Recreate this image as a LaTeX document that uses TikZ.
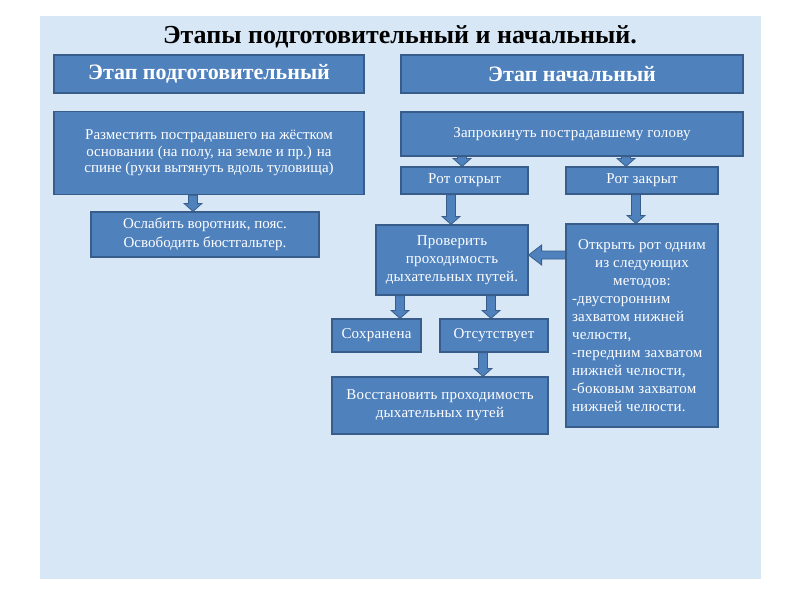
\documentclass[tikz,border=0pt]{standalone}
\usepackage{fontspec}
\setmainfont{Liberation Serif}
\usetikzlibrary{calc}
\definecolor{bgblue}{HTML}{D8E7F6}
\definecolor{boxfill}{HTML}{4F81BD}
\definecolor{boxline}{HTML}{385D8A}
\tikzset{
  box/.style={draw=boxline, fill=boxfill, line width=1.2pt, text=white, inner sep=2pt, align=center,
    font=\rmfamily\fontsize{15}{18}\selectfont\addfontfeatures{LetterSpace=1.5}},
  headbox/.style={box, font=\rmfamily\fontsize{22}{24}\selectfont\bfseries},
  blockarr/.style={draw=boxline, fill=boxfill, line width=0.8pt, line join=miter}
}
% vertical block arrow from node #1 (south) to node #2 (north) at x = #3 pt
\newcommand\varr[3]{%
  \path[blockarr] let \p1=(#1.south), \p2=(#2.north) in
    (#3pt-4.5pt,\y1) -- (#3pt-4.5pt,\y2+8pt) -- (#3pt-9pt,\y2+8pt) -- (#3pt,\y2)
    -- (#3pt+9pt,\y2+8pt) -- (#3pt+4.5pt,\y2+8pt) -- (#3pt+4.5pt,\y1) -- cycle;}
% horizontal block arrow from node #1 (west) to node #2 (east) at y = #3 (picture units)
\newcommand\harr[3]{%
  \path[blockarr] let \p1=(#1.west), \p2=(#2.east), \p3=(0,#3) in
    (\x1,\y3+4pt) -- (\x2+13pt,\y3+4pt) -- (\x2+13pt,\y3+10pt) -- (\x2,\y3)
    -- (\x2+13pt,\y3-10pt) -- (\x2+13pt,\y3-4pt) -- (\x1,\y3-4pt) -- cycle;}
\begin{document}
\begin{tikzpicture}[x=1pt,y=-1pt]
\useasboundingbox (0,0) rectangle (800,600);
\fill[white] (0,0) rectangle (800,600);
\fill[bgblue] (40,16) rectangle (761,579);

\node[font=\rmfamily\fontsize{26}{28}\selectfont\bfseries] (title) at (400,37) {Этапы подготовительный и начальный.};

\node[headbox, minimum width=310pt, minimum height=38pt] (hL) at (209,74) {Этап подготовительный};
\node[headbox, minimum width=342pt, minimum height=38pt] (hR) at (572,74) {Этап начальный};

\node[box, minimum width=310pt, minimum height=83pt, font=\fontsize{15}{16.5}\selectfont] (raz) at (209,153)
  {Разместить пострадавшего на жёстком\\основании (на полу, на земле и пр.) на\\спине (руки вытянуть вдоль туловища)};
\node[box, minimum width=228pt, minimum height=45pt, font=\fontsize{15}{19}\selectfont] (osl) at (205,234.5)
  {Ослабить воротник, пояс.\\Освободить бюстгальтер.};

\node[box, minimum width=342pt, minimum height=44pt] (zap) at (572,134) {Запрокинуть пострадавшему голову};
\node[box, minimum width=127pt, minimum height=27pt] (rotO) at (464.5,180.5) {Рот открыт};
\node[box, minimum width=152pt, minimum height=27pt] (rotZ) at (642,180.5) {Рот закрыт};

\node[box, minimum width=152pt, minimum height=70pt] (prov) at (452,260)
  {Проверить\\проходимость\\дыхательных путей.};
\node[box, minimum width=152pt, minimum height=203pt, text width=140pt, align=none] (otk) at (642,325.5)
  {\centering Открыть рот одним\\из следующих\\методов:\par
   \raggedright -двусторонним\\захватом нижней\\челюсти,\\-передним захватом\\нижней челюсти,\\-боковым захватом\\нижней челюсти.\par};

\node[box, minimum width=89pt, minimum height=33pt] (soh) at (376.5,335.5) {Сохранена};
\node[box, minimum width=108pt, minimum height=33pt] (ots) at (494,335.5) {Отсутствует};
\node[box, minimum width=216pt, minimum height=57pt] (vos) at (440,405.5)
  {Восстановить проходимость\\дыхательных путей};

\varr{raz}{osl}{193}
\varr{zap}{rotO}{462}
\varr{zap}{rotZ}{626}
\varr{rotO}{prov}{451}
\varr{rotZ}{otk}{636}
\varr{prov}{soh}{400}
\varr{prov}{ots}{491}
\varr{ots}{vos}{483}
\harr{otk}{prov}{255}
\end{tikzpicture}
\end{document}
